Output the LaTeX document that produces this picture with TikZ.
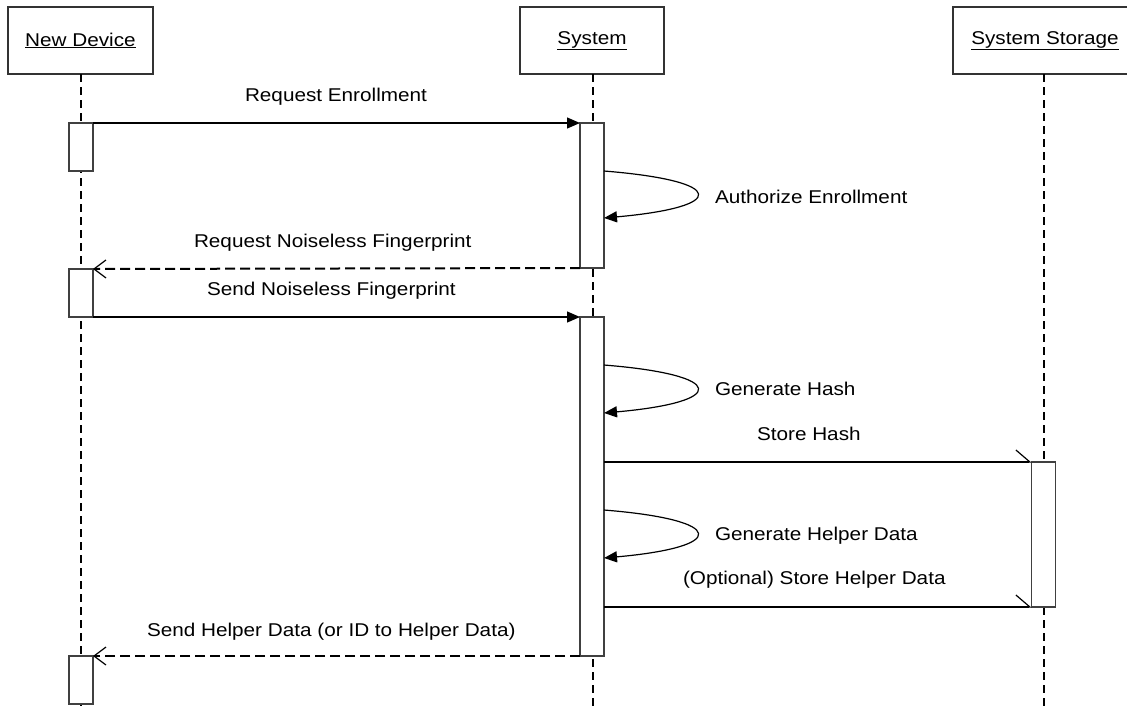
\documentclass[tikz,border=0pt]{standalone}
\usepackage{fontspec}
\setmainfont{Liberation Sans}
\usetikzlibrary{arrows.meta}
\newcommand{\wtxt}[1]{\scalebox{1.12}[1]{#1}}
\begin{document}
\begin{tikzpicture}[x=1pt,y=-1pt,
  every node/.style={font=\fontsize{18.5}{22}\selectfont, inner sep=0pt, outer sep=0pt},
  part/.style={draw=black!80, line width=1.3pt, fill=white, minimum height=67pt},
  life/.style={line width=2pt, dash pattern=on 8pt off 5pt},
  act/.style={draw=black!75, line width=1.3pt, fill=white, minimum width=24pt, anchor=north},
  msg/.style={line width=1.2pt, -{Triangle[length=13pt,width=11pt]}},
  ret/.style={line width=2pt, dash pattern=on 10pt off 5pt, -{Straight Barb[length=12pt,width=18pt,line width=1.2pt]}},
  half/.style={line width=1.2pt, -{Straight Barb[left,length=14pt,width=24pt]}},
  lbl/.style={anchor=base west}]
\useasboundingbox (0,0) rectangle (1127,707);
% participants
\node[part, minimum width=145pt] (nd) at (80.5,40.5) {\wtxt{\underline{New Device}}};
\node[part, minimum width=144pt] (sy) at (592,40.5) {\wtxt{\underline{System}}};
\node[part, minimum width=184pt] (st) at (1045,40.5) {\wtxt{\underline{System Storage}}};
\coordinate (ndend) at (81,707);
\coordinate (syend) at (593,707);
\coordinate (stend) at (1044,707);
% lifelines
\draw[life] (nd.south -| ndend) -- (ndend);
\draw[life] (sy.south -| syend) -- (syend);
\draw[life] (st.south -| stend) -- (stend);
% activations
\node[act, minimum height=48pt] (n1) at (81,123) {};
\node[act, minimum height=48pt] (n2) at (81,269) {};
\node[act, minimum height=48pt] (n3) at (81,656) {};
\node[act, minimum height=145pt] (s1) at (592,123) {};
\node[act, minimum height=339pt] (s2) at (592,317) {};
\node[act, minimum height=145pt] (g1) at (1043.5,462) {};
% self-loop anchors
\coordinate (a1s) at (604,171);
\coordinate (a1e) at (604,218);
\coordinate (h1s) at (604,365);
\coordinate (h1e) at (604,413);
\coordinate (d1s) at (604,510);
\coordinate (d1e) at (604,558);
% messages
\draw[msg] (n1.north east) -- (s1.north west);
\draw[msg] (a1s) .. controls +(124,10) and +(124,-11) .. (a1e);
\draw[ret] (s1.south west) -- (n2.north east);
\draw[msg] (n2.south east) -- (s2.north west);
\draw[msg] (h1s) .. controls +(124,10) and +(124,-11) .. (h1e);
\draw[half] (s2.east |- g1.north) -- (g1.north west);
\draw[msg] (d1s) .. controls +(124,10) and +(124,-11) .. (d1e);
\draw[half] (s2.east |- g1.south) -- (g1.south west);
\draw[ret] (s2.south west) -- (n3.north east);
% labels
\node[lbl] (t1) at (245,101) {\wtxt{Request Enrollment}};
\node[lbl] (t2) at (715,203) {\wtxt{Authorize Enrollment}};
\node[lbl] (t3) at (194,247) {\wtxt{Request Noiseless Fingerprint}};
\node[lbl] (t4) at (207,295) {\wtxt{Send Noiseless Fingerprint}};
\node[lbl] (t5) at (715,395) {\wtxt{Generate Hash}};
\node[lbl] (t6) at (757,440) {\wtxt{Store Hash}};
\node[lbl] (t7) at (715,540) {\wtxt{Generate Helper Data}};
\node[lbl] (t8) at (683,584) {\wtxt{(Optional) Store Helper Data}};
\node[lbl] (t9) at (147,636) {\wtxt{Send Helper Data (or ID to Helper Data)}};
\end{tikzpicture}
\end{document}
